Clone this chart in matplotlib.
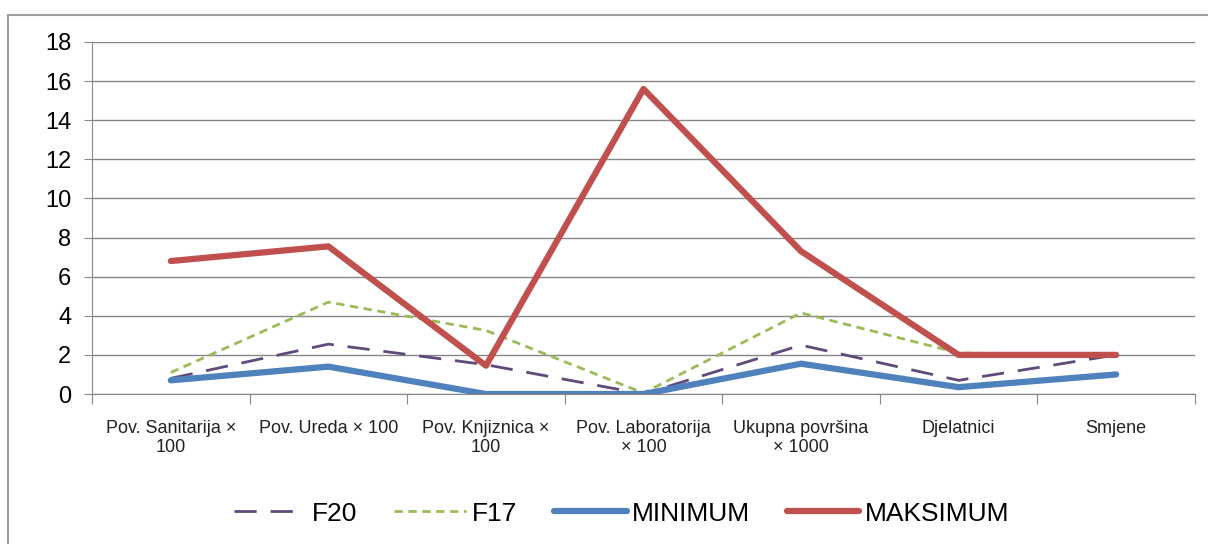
import numpy as np
import matplotlib.pyplot as plt
from matplotlib.patches import Rectangle

categories = ['Pov. Sanitarija ×\n100', 'Pov. Ureda × 100', 'Pov. Knjiznica ×\n100',
              'Pov. Laboratorija\n× 100', 'Ukupna površina\n× 1000', 'Djelatnici', 'Smjene']
f20 = [0.8, 2.55, 1.5, 0.0, 2.5, 0.7, 2.0]
f17 = [1.1, 4.7, 3.25, 0.05, 4.15, 2.1, 2.0]
minimum = [0.7, 1.4, 0.0, 0.0, 1.55, 0.35, 1.0]
maksimum = [6.8, 7.55, 1.45, 15.6, 7.3, 2.0, 2.0]

plt.rcParams['font.family'] = ['Liberation Sans', 'DejaVu Sans']

fig = plt.figure(figsize=(12.08, 5.44), dpi=100)
ax = fig.add_axes([0.0762, 0.2757, 0.913, 0.6471])

x = np.arange(len(categories)) + 0.5
ax.plot(x, f20, color='#604A7B', lw=2, dashes=(8, 5), label='F20')
ax.plot(x, f17, color='#9BBB59', lw=2, dashes=(3, 2), label='F17')
ax.plot(x, minimum, color='#4F81BD', lw=4.5, solid_capstyle='round', label='MINIMUM')
ax.plot(x, maksimum, color='#C0504D', lw=4.5, solid_capstyle='round', label='MAKSIMUM')

ax.set_xlim(0, len(categories))
ax.set_ylim(0, 18)
ax.set_yticks(range(0, 19, 2))
ax.tick_params(axis='y', labelsize=17, length=6, color='#868686', pad=9)
ax.set_xticks(np.arange(len(categories) + 1))
ax.set_xticklabels([])
ax.set_xticks(x, minor=True)
ax.set_xticklabels(categories, minor=True, fontsize=13, color='#222222', linespacing=1.15)
ax.tick_params(axis='x', which='major', length=7, color='#868686', direction='out')
ax.tick_params(axis='x', which='minor', length=0, pad=19)
ax.grid(axis='y', color='#868686', lw=1)
ax.set_axisbelow(True)
for s in ['top', 'right']:
    ax.spines[s].set_visible(False)
for s in ['left', 'bottom']:
    ax.spines[s].set_color('#868686')

ax.legend(loc='center', bbox_to_anchor=(0.48, -0.34), ncol=4, frameon=False,
          fontsize=19, handlelength=2.75, columnspacing=1.4, handletextpad=0.2)

fig.patches.append(Rectangle((0.007, -0.1), 1.1, 0.1 + 0.973, transform=fig.transFigure,
                             fill=False, edgecolor='#A0A0A0', lw=1.5))

fig.savefig('out.png')
